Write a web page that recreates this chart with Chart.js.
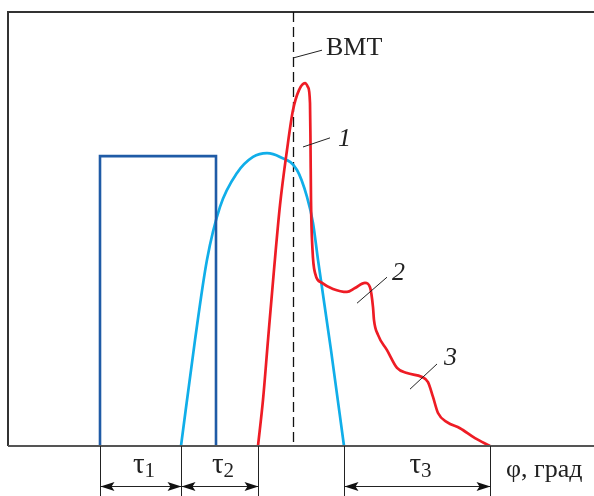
<!DOCTYPE html>
<html><head><meta charset="utf-8">
<script src="https://cdn.jsdelivr.net/npm/chart.js@4.4.1/dist/chart.umd.min.js"></script>
<style>html,body{margin:0;padding:0;background:#fff}#wrap{width:594px;height:496px}</style>
</head><body><div id="wrap"><canvas id="c" width="594" height="496"></canvas></div>
<script>
// φ in degrees relative to BMT (0), values in relative units (0..100)
const blueX = [-96.5, -96.5, -38.5, -38.5];
const blueY = [0, 66.8, 66.8, 0];
const cyanX = [-56, -49, -43, -36.5, -28, -20, -13, -6.5, 2, 7, 10, 12.5, 19, 25.5];
const cyanY = [0, 24.4, 42.9, 55.1, 62.9, 66.6, 67.5, 66.6, 63.6, 57.4, 51.4, 42.9, 22.1, 0];
const redX = [-17.5, -15, -12.5, -9.5, -6.5, -3, 0, 3, 6, 7.5, 8.5, 8.75, 9, 9.75, 11, 14.5, 20, 27, 31, 36, 38.5, 40, 40.5, 42.5, 47, 52, 57, 64.5, 67.5, 70, 72.5, 77, 83.5, 91, 98.5];
const redY = [0, 10.6, 24.4, 40.6, 55.5, 68.2, 77.4, 82.0, 83.6, 82.7, 79.0, 69.8, 56.7, 45.2, 39.9, 37.6, 36.2, 35.5, 36.4, 37.6, 36.6, 32.0, 29.0, 25.6, 22.1, 18.0, 16.8, 15.9, 14.7, 11.3, 7.6, 5.5, 4.1, 1.8, 0];
const bmtX = 0;
const dimMarks = [-96.5, -56, -17.5, 25.5, 98.5];
const dimSpans = [[-96.5, -56, '1'], [-56, -17.5, '2'], [25.5, 98.5, '3']];
const axisLabel = 'φ, град';
const bmtLabel = 'ВМТ';
const curveLabels = ['1', '2', '3'];

const pts = (xs, ys) => xs.map((x, i) => ({x, y: ys[i]}));

const SERIF = '"Liberation Serif", "DejaVu Serif", serif';

const overlay = {
  id: 'overlay',
  beforeDatasetsDraw(chart) {
    const {ctx, chartArea: a, scales: {x, y}} = chart;
    ctx.save();
    ctx.strokeStyle = '#333';
    ctx.lineWidth = 2;
    ctx.beginPath();
    ctx.moveTo(a.left, a.bottom); ctx.lineTo(a.left, a.top); ctx.lineTo(chart.width, a.top);
    ctx.stroke();
    const bx = Math.round(x.getPixelForValue(bmtX)) + 0.5;
    ctx.strokeStyle = '#111';
    ctx.lineWidth = 1.3;
    ctx.setLineDash([10, 5]);
    ctx.beginPath(); ctx.moveTo(bx, a.top); ctx.lineTo(bx, a.bottom); ctx.stroke();
    ctx.setLineDash([]);
    ctx.restore();
  },
  afterDatasetsDraw(chart) {
    const {ctx, chartArea: a, scales: {x, y}} = chart;
    const X = v => x.getPixelForValue(v), Y = v => y.getPixelForValue(v);
    ctx.save();
    ctx.strokeStyle = '#555';
    ctx.lineWidth = 2;
    ctx.beginPath(); ctx.moveTo(a.left, a.bottom); ctx.lineTo(chart.width, a.bottom); ctx.stroke();
    ctx.strokeStyle = '#222';
    ctx.lineWidth = 1;
    dimMarks.forEach(m => {
      const px = Math.round(X(m)) + 0.5;
      ctx.beginPath(); ctx.moveTo(px, a.bottom); ctx.lineTo(px, chart.height); ctx.stroke();
    });
    const ay = a.bottom + 40.5;
    const arrow = (px, dir) => {
      ctx.beginPath();
      ctx.moveTo(px, ay);
      ctx.lineTo(px + dir * 14, ay - 4.5);
      ctx.lineTo(px + dir * 11, ay);
      ctx.lineTo(px + dir * 14, ay + 4.5);
      ctx.closePath();
      ctx.fillStyle = '#111';
      ctx.fill();
    };
    dimSpans.forEach(([s, e, sub]) => {
      const p1 = Math.round(X(s)) + 0.5, p2 = Math.round(X(e)) + 0.5;
      ctx.beginPath(); ctx.moveTo(p1, ay); ctx.lineTo(p2, ay); ctx.stroke();
      arrow(p1, 1); arrow(p2, -1);
      ctx.font = '29px ' + SERIF;
      const tw = ctx.measureText('τ').width;
      ctx.font = '21px ' + SERIF;
      const sw = ctx.measureText(sub).width;
      const cx = (p1 + p2) / 2 + 3;
      const left = cx - (tw + sw) / 2;
      ctx.fillStyle = '#222';
      ctx.textBaseline = 'alphabetic';
      ctx.textAlign = 'left';
      ctx.font = '29px ' + SERIF;
      ctx.fillText('τ', left, a.bottom + 27);
      ctx.font = '21px ' + SERIF;
      ctx.fillText(sub, left + tw, a.bottom + 31);
    });
    ctx.font = '26px ' + SERIF;
    ctx.fillStyle = '#222';
    ctx.fillText(axisLabel, 506, a.bottom + 31);
    ctx.strokeStyle = '#222';
    ctx.lineWidth = 1;
    const leader = (x1, y1, x2, y2) => {
      ctx.beginPath(); ctx.moveTo(X(x1), Y(y1)); ctx.lineTo(X(x2), Y(y2)); ctx.stroke();
    };
    leader(0, 89.4, 14.5, 91.2);
    ctx.font = '26px ' + SERIF;
    ctx.fillText(bmtLabel, X(16.5), Y(90.0));
    leader(5, 68.9, 18.5, 71.0);
    leader(32, 32.9, 47, 38.9);
    leader(58.5, 13.1, 72, 18.9);
    ctx.font = 'italic 26px ' + SERIF;
    ctx.fillText(curveLabels[0], X(22.5), Y(69.1));
    ctx.fillText(curveLabels[1], X(49.5), Y(38.2));
    ctx.fillText(curveLabels[2], X(75.5), Y(18.6));
    ctx.restore();
  }
};

new Chart(document.getElementById('c'), {
  type: 'scatter',
  data: {
    datasets: [
      {data: pts(redX, redY), showLine: true, borderColor: '#ee1c25', borderWidth: 2.7, pointRadius: 0, cubicInterpolationMode: 'monotone', fill: false},
      {data: pts(blueX, blueY), showLine: true, borderColor: '#1f5ba6', borderWidth: 2.6, pointRadius: 0, tension: 0, fill: false},
      {data: pts(cyanX, cyanY), showLine: true, borderColor: '#10aee9', borderWidth: 2.7, pointRadius: 0, cubicInterpolationMode: 'monotone', fill: false}
    ]
  },
  options: {
    responsive: false,
    animation: false,
    devicePixelRatio: 1,
    layout: {padding: {left: 8, top: 12, right: 0, bottom: 50}},
    plugins: {legend: {display: false}, tooltip: {enabled: false}},
    scales: {
      x: {type: 'linear', display: false, min: -142.5, max: 150.5},
      y: {type: 'linear', display: false, min: 0, max: 100}
    }
  },
  plugins: [overlay]
});
</script></body></html>
